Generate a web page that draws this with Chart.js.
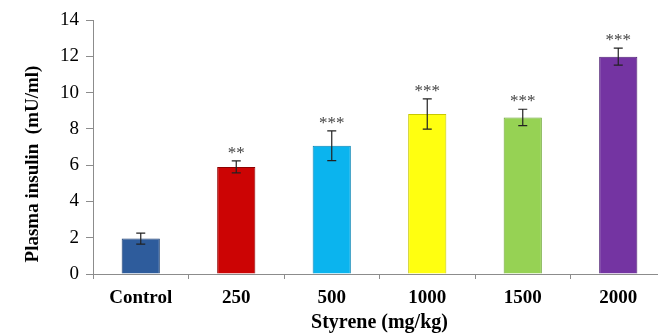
<!DOCTYPE html>
<html>
<head>
<meta charset="utf-8">
<script src="https://cdn.jsdelivr.net/npm/chart.js@4/dist/chart.umd.min.js"></script>
<style>
  html, body { margin: 0; padding: 0; background: #fff; overflow: hidden; }
  #wrap { width: 666px; height: 335px; }
</style>
</head>
<body>
<div id="wrap"><canvas id="chart"></canvas></div>
<script>
// data
const doses = ["Control", "250", "500", "1000", "1500", "2000"];
const insulin = [1.95, 5.9, 7.07, 8.82, 8.63, 11.98];
const insulinSem = [0.3, 0.33, 0.82, 0.83, 0.45, 0.47];
const stars = ["", "**", "***", "***", "***", "***"];
const yTicks = [0, 2, 4, 6, 8, 10, 12, 14];

const barColors = ["#2e5c9c", "#cc0404", "#0bb4ee", "#ffff10", "#96d254", "#7434a2"];
const edgeColors = ["#1d3f70", "#8e0000", "#0483b4", "#c8c800", "#6aa532", "#4f1f74"];

const serif = "'Liberation Serif', 'Times New Roman', serif";

// horizontal gradient so the bars look a bit bevelled like the original
function barFill(ctx) {
  const el = ctx.element;
  const chart = ctx.chart;
  if (!el || !chart.chartArea) return barColors[ctx.dataIndex];
  const half = el.width / 2;
  if (!half) return barColors[ctx.dataIndex];
  const g = chart.ctx.createLinearGradient(el.x - half, 0, el.x + half, 0);
  const base = barColors[ctx.dataIndex];
  const edge = edgeColors[ctx.dataIndex];
  g.addColorStop(0, edge);
  g.addColorStop(0.12, base);
  g.addColorStop(0.88, base);
  g.addColorStop(1, edge);
  return g;
}

// error bars + significance stars + y title
const extras = {
  id: "extras",
  afterDatasetsDraw(chart) {
    const { ctx, scales: { y } } = chart;
    const meta = chart.getDatasetMeta(0);
    ctx.save();
    meta.data.forEach((bar, i) => {
      const top = y.getPixelForValue(insulin[i] + insulinSem[i]);
      const bot = y.getPixelForValue(insulin[i] - insulinSem[i]);
      ctx.strokeStyle = "#222";
      ctx.lineWidth = 1.2;
      ctx.beginPath();
      ctx.moveTo(bar.x, top); ctx.lineTo(bar.x, bot);
      ctx.moveTo(bar.x - 4.5, top); ctx.lineTo(bar.x + 4.5, top);
      ctx.moveTo(bar.x - 4.5, bot); ctx.lineTo(bar.x + 4.5, bot);
      ctx.stroke();
      if (stars[i]) {
        ctx.fillStyle = "#444";
        ctx.font = "17px " + serif;
        ctx.textAlign = "center";
        ctx.textBaseline = "alphabetic";
        ctx.fillText(stars[i], bar.x, top - 3);
      }
    });
    // y axis title, sits a little lower than the plot centre in the original
    ctx.translate(33, 164);
    ctx.rotate(-Math.PI / 2);
    ctx.fillStyle = "#000";
    ctx.font = "bold 19px " + serif;
    ctx.textAlign = "center";
    ctx.textBaseline = "middle";
    ctx.fillText("Plasma insulin  (mU/ml)", 0, 0);
    ctx.restore();
  }
};

new Chart(document.getElementById("chart"), {
  type: "bar",
  data: {
    labels: doses,
    datasets: [{
      data: insulin,
      backgroundColor: barFill,
      borderColor: edgeColors,
      borderWidth: 1,
      categoryPercentage: 1,
      barPercentage: 0.4
    }]
  },
  options: {
    responsive: true,
    maintainAspectRatio: false,
    animation: false,
    layout: { padding: { top: 20, right: 0, left: 0, bottom: 0 } },
    plugins: {
      legend: { display: false },
      tooltip: { enabled: false }
    },
    scales: {
      x: {
        offset: true,
        grid: { display: true, drawOnChartArea: false, offset: true, tickLength: 5, color: "#8c8c8c" },
        border: { color: "#8c8c8c", width: 1 },
        ticks: { color: "#000", font: { family: serif, size: 19, weight: "bold" }, padding: 8 },
        title: {
          display: true,
          text: "Styrene (mg/kg)",
          color: "#000",
          font: { family: serif, size: 20, weight: "bold" },
          padding: { top: 0, bottom: 0 }
        },
        afterFit(scale) { scale.height = 61; }
      },
      y: {
        min: 0,
        max: 14,
        afterBuildTicks(scale) { scale.ticks = yTicks.map(v => ({ value: v })); },
        grid: { display: true, drawOnChartArea: false, tickLength: 7, color: "#8c8c8c" },
        border: { color: "#8c8c8c", width: 1 },
        ticks: { color: "#000", font: { family: serif, size: 19 }, padding: 7 },
        afterFit(scale) { scale.width = 93; }
      }
    }
  },
  plugins: [extras]
});
</script>
</body>
</html>
